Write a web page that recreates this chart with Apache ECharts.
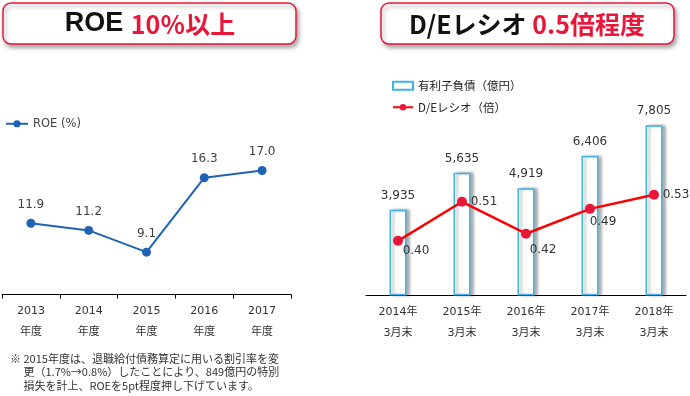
<!DOCTYPE html>
<html>
<head>
<meta charset="utf-8">
<script src="https://cdn.jsdelivr.net/npm/echarts@6/dist/echarts.min.js"></script>
<style>
  html, body { margin: 0; padding: 0; background: #fff; }
  #main { width: 690px; height: 396px; }
</style>
</head>
<body>
<div id="main"></div>
<script>
// left chart: ROE
var roeYears = ['2013\n年度', '2014\n年度', '2015\n年度', '2016\n年度', '2017\n年度'];
var roeValues = [11.9, 11.2, 9.1, 16.3, 17.0];

// right chart: debt and D/E ratio
var deYears = ['2014年\n3月末', '2015年\n3月末', '2016年\n3月末', '2017年\n3月末', '2018年\n3月末'];
var debtValues = [3935, 5635, 4919, 6406, 7805];
var deRatio = [0.40, 0.51, 0.42, 0.49, 0.53];

var numFont = "'DejaVu Sans', 'Noto Sans CJK JP', sans-serif";
var jpFont = "'Noto Sans CJK JP', sans-serif";

var dom = document.getElementById('main');
var myChart = echarts.init(dom, null, { renderer: 'canvas' });

// label offsets for the D/E points (label sits right/below of each point)
var deLabelOffsets = [[18, 10], [22, 0], [17, 16], [13, 13], [22, 0]];

var option = {
    animation: false,
    textStyle: { fontFamily: numFont },
    graphic: [
        {
            type: 'rect',
            shape: { x: 3, y: 3, width: 293, height: 41, r: 8 },
            style: {
                fill: '#fff', stroke: '#e8173a', lineWidth: 1.5,
                shadowBlur: 4, shadowOffsetX: 2, shadowOffsetY: 3, shadowColor: 'rgba(0,0,0,0.35)'
            }
        },
        {
            type: 'rect',
            shape: { x: 381, y: 3, width: 293, height: 41, r: 8 },
            style: {
                fill: '#fff', stroke: '#e8173a', lineWidth: 1.5,
                shadowBlur: 4, shadowOffsetX: 2, shadowOffsetY: 3, shadowColor: 'rgba(0,0,0,0.35)'
            }
        },
        {
            type: 'text',
            x: 150, y: 24,
            style: {
                text: '{a|ROE }{b|10％以上}',
                align: 'center', verticalAlign: 'middle',
                rich: {
                    a: { fontFamily: "'Liberation Sans', Arial, sans-serif", fontWeight: 'bold', fontSize: 27, fill: '#111' },
                    b: { fontFamily: jpFont, fontWeight: 'bold', fontSize: 25, fill: '#e8173a' }
                }
            }
        },
        {
            type: 'text',
            x: 527, y: 24,
            style: {
                text: '{a|D/Eレシオ }{b|0.5倍程度}',
                align: 'center', verticalAlign: 'middle',
                rich: {
                    a: { fontFamily: jpFont, fontWeight: 'bold', fontSize: 25, fill: '#111' },
                    b: { fontFamily: jpFont, fontWeight: 'bold', fontSize: 25, fill: '#e8173a' }
                }
            }
        },
        {
            type: 'text',
            x: 10, y: 352,
            style: {
                text: '※ 2015年度は、退職給付債務算定に用いる割引率を変\n　 更（1.7%→0.8%）したことにより、849億円の特別\n　 損失を計上、ROEを5pt程度押し下げています。',
                fontFamily: jpFont, fontSize: 11, lineHeight: 13.5, fill: '#333'
            }
        }
    ],
    legend: [
        {
            data: ['ROE (%)'],
            left: 5, top: 118,
            padding: 0,
            itemWidth: 22, itemHeight: 9,
            textStyle: { fontSize: 11.5, color: '#444', fontFamily: numFont }
        },
        {
            data: [{ name: '有利子負債（億円）', icon: 'rect' }, 'D/Eレシオ（倍）'],
            orient: 'vertical',
            left: 392, top: 80,
            padding: 0,
            itemGap: 10,
            itemWidth: 20, itemHeight: 8,
            textStyle: { fontSize: 11.5, color: '#222', fontFamily: jpFont }
        }
    ],
    grid: [
        { left: 2, width: 289, top: 139.5, bottom: 101.5 },
        { left: 366, width: 320, top: 77.5, bottom: 100.5 }
    ],
    xAxis: [
        {
            gridIndex: 0,
            type: 'category',
            data: roeYears,
            axisLine: { lineStyle: { color: '#000', width: 1 } },
            axisTick: { show: true, length: 4, lineStyle: { color: '#000' } },
            axisLabel: { color: '#333', fontSize: 11, lineHeight: 21, margin: 6, fontFamily: numFont }
        },
        {
            gridIndex: 1,
            type: 'category',
            data: deYears,
            axisLine: { lineStyle: { color: '#000', width: 1 } },
            axisTick: { show: false },
            axisLabel: { color: '#333', fontSize: 11, lineHeight: 21, margin: 6, fontFamily: numFont }
        }
    ],
    yAxis: [
        { gridIndex: 0, type: 'value', min: 5, max: 20, show: false },
        { gridIndex: 1, type: 'value', min: 0, max: 10000, show: false },
        { gridIndex: 1, type: 'value', min: 0.246, max: 0.86, show: false }
    ],
    series: [
        {
            name: 'ROE (%)',
            type: 'line',
            xAxisIndex: 0, yAxisIndex: 0,
            data: roeValues,
            symbol: 'circle',
            symbolSize: 9,
            itemStyle: { color: '#1e63b5' },
            lineStyle: { color: '#1e63b5', width: 2 },
            label: {
                show: true, position: 'top', distance: 8,
                color: '#404040', fontSize: 12,
                formatter: function (p) { return p.value.toFixed(1); }
            }
        },
        {
            name: '有利子負債（億円）',
            type: 'bar',
            xAxisIndex: 1, yAxisIndex: 1,
            data: debtValues,
            barWidth: 17,
            itemStyle: {
                color: '#fff', borderColor: '#3fb3e6', borderWidth: 1.5,
                shadowColor: 'rgba(0,0,0,0.3)', shadowBlur: 3, shadowOffsetX: 3
            },
            label: {
                show: true, position: 'top', distance: 8,
                color: '#333', fontSize: 12,
                formatter: function (p) { return p.value.toLocaleString('en-US'); }
            }
        },
        {
            name: 'D/Eレシオ（倍）',
            type: 'line',
            xAxisIndex: 1, yAxisIndex: 2,
            data: deRatio.map(function (v, i) {
                return { value: v, label: { offset: deLabelOffsets[i] } };
            }),
            symbol: 'circle',
            symbolSize: 10,
            itemStyle: { color: '#e8173a' },
            lineStyle: { color: '#ff0000', width: 2.5 },
            label: {
                show: true, position: 'inside',
                color: '#333', fontSize: 12,
                formatter: function (p) { return p.value.toFixed(2); }
            }
        }
    ]
};

myChart.setOption(option);
window.addEventListener('resize', myChart.resize);
</script>
</body>
</html>
